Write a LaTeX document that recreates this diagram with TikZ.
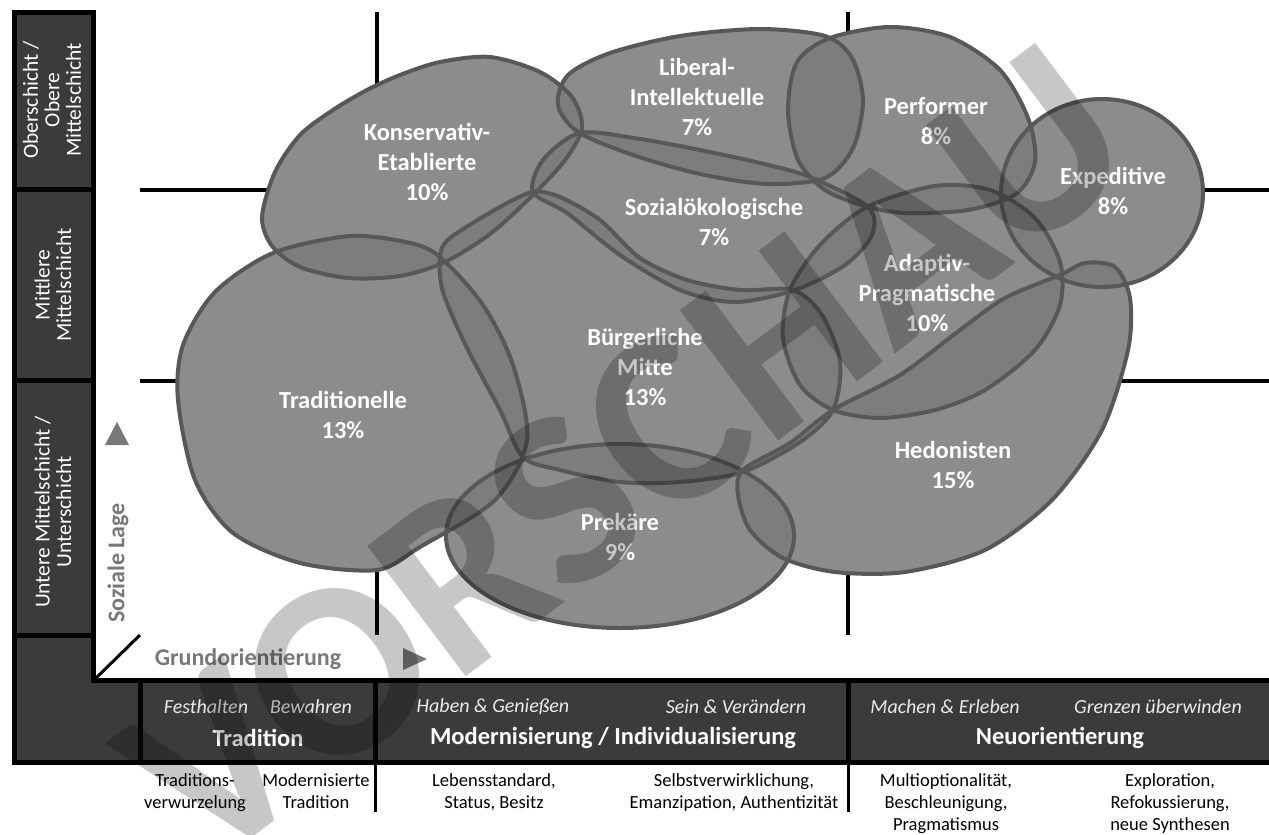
\documentclass[tikz,border=0pt]{standalone}
\usepackage{fontspec}
\setmainfont{Carlito}
\definecolor{blob}{gray}{0.482}
\definecolor{rimc}{gray}{0.345}
\definecolor{panel}{gray}{0.23}
\definecolor{axisgray}{gray}{0.47}

\begin{document}
\begin{tikzpicture}[x=1pt,y=-1pt,
    blank/.style={fill=white},
    milieu/.style={fill=blob,fill opacity=.87},
    rim/.style={draw=rimc,line width=4pt},
    cell/.style={fill=panel,draw=black,line width=5pt},
    lab/.style={text=white,align=center,font=\fontsize{24.5}{30}\selectfont\bfseries},
    layer/.style={text=white,align=center,rotate=90,font=\fontsize{21.5}{21.5}\selectfont},
    value/.style={text=white!92!black,font=\fontsize{20}{24}\selectfont\itshape},
    orient/.style={text=white,font=\fontsize{24.5}{30}\selectfont\bfseries},
    gloss/.style={align=center,anchor=north,inner sep=0pt,font=\fontsize{18.5}{22}\selectfont},
    axis/.style={text=axisgray,font=\fontsize{24}{28}\selectfont\bfseries}]

      \useasboundingbox (0,0) rectangle (1269,835);

      % grid
      \draw[line width=4pt] (140,189.5) -- (1275,189.5);
      \draw[line width=4pt] (140,380.5) -- (1275,380.5);
      \draw[line width=4pt] (377,12) -- (377,635);
      \draw[line width=4pt] (848,12) -- (848,635);

      % milieus: white base, grey fill, rims
      \foreach \lay in {blank,milieu,rim}
      {
        % Konservativ-Etablierte
        \path[\lay] plot[smooth cycle] coordinates {(262,217) (272,246) (300,267) (348,278) (400,276)
          (445,262) (490,234) (533,195) (565,160) (582,128) (572,97) (540,72) (490,57) (440,62)
          (400,75) (367,90) (333,110) (300,135) (275,172)};
        % Liberal-Intellektuelle
        \path[\lay] plot[smooth cycle] coordinates {(558,105) (568,75) (610,53) (680,36) (760,29)
          (825,36) (852,58) (863,100) (853,148) (825,178) (767,184) (700,174) (633,155) (578,132)};
        % Performer
        \path[\lay] plot[smooth cycle] coordinates {(788,110) (797,62) (830,38) (890,27) (950,37)
          (1000,70) (1028,118) (1035,162) (1016,194) (968,210) (905,213) (865,206) (825,190) (798,160)};
        % Expeditive
        \path[\lay] (1102,193) ellipse [x radius=101, y radius=94];
        % Sozialoekologische
        \path[\lay] plot[smooth cycle] coordinates {(533,192) (543,160) (580,133) (640,139) (700,150)
          (760,163) (810,177) (868,207) (872,235) (845,265) (795,290) (735,302) (680,290) (620,255) (567,213)};
        % Adaptiv-Pragmatische
        \path[\lay] plot[smooth cycle] coordinates {(867,207) (935,186) (990,190) (1035,218) (1060,262)
          (1060,305) (1035,350) (985,390) (935,410) (880,418) (833,410) (800,385) (783,338) (790,290) (820,245)};
        % Buergerliche Mitte
        \path[\lay] plot[smooth cycle] coordinates {(440,257) (450,238) (500,207) (533,192) (560,197)
          (600,220) (640,258) (687,280) (740,290) (793,290) (822,315) (840,362) (833,410) (800,442)
          (743,472) (680,482) (620,482) (560,470) (523,457) (500,410) (467,348) (443,292)};
        % Traditionelle
        \path[\lay] plot[smooth cycle] coordinates {(178,400) (183,345) (215,292) (273,253) (350,236)
          (410,243) (440,257) (483,305) (513,365) (527,440) (495,500) (420,547) (377,570) (300,563)
          (233,533) (195,480)};
        % Prekaere
        \path[\lay] (620,536) ellipse [x radius=174, y radius=92];
        % Hedonisten
        \path[\lay] plot[smooth cycle] coordinates {(743,470) (790,443) (833,410) (900,375) (960,330)
          (1005,298) (1060,275) (1085,263) (1115,267) (1130,298) (1128,350) (1102,430) (1052,500)
          (985,550) (905,572) (835,572) (783,558) (750,530) (738,495)};
      }

      \node[lab] (kon) at (427,162) {Konservativ-\\Etablierte\\10\%};
      \node[lab] (lib) at (697,97) {Liberal-\\Intellektuelle\\7\%};
      \node[lab] (perf) at (936,121) {Performer\\8\%};
      \node[lab] (exped) at (1113,191) {Expeditive\\8\%};
      \node[lab] (sozi) at (714,222) {Sozialökologische\\7\%};
      \node[lab] (adapt) at (927,293) {Adaptiv-\\Pragmatische\\10\%};
      \node[lab] (buerg) at (645,367) {Bürgerliche\\Mitte\\13\%};
      \node[lab] (trad) at (343,415) {Traditionelle\\13\%};
      \node[lab] (prek) at (620,537) {Prekäre\\9\%};
      \node[lab] (hedo) at (953,465) {Hedonisten\\15\%};

      % left column
      \draw[cell] (14.5,12.5) rectangle (93.5,189.5);
      \draw[cell] (14.5,189.5) rectangle (93.5,380.5);
      \draw[cell] (14.5,380.5) rectangle (93.5,635);
      \draw[cell] (14.5,635) -- (93.5,635) -- (93.5,680.5) -- (140,680.5) -- (140,762) -- (14.5,762) -- cycle;
      \node[layer] (ober) at (52,100) {Oberschicht /\\Obere\\Mittelschicht};
      \node[layer] (mitt) at (53,285) {Mittlere\\Mittelschicht};
      \node[layer] (unter) at (53,512) {Untere Mittelschicht /\\Unterschicht};

      % axes
      \draw[line width=3pt] (95,679) -- (140,635);
      \node[axis,rotate=90] (lage) at (118,563) {Soziale Lage};
      \fill[axisgray] (105,445) -- (117,422) -- (129,445) -- cycle;
      \node[axis] (grund) at (248,659) {Grundorientierung};
      \fill[axisgray] (403,648) -- (427,659) -- (403,670) -- cycle;

      % bottom band
      \draw[cell] (140,680.5) rectangle (375,762);
      \draw[cell] (375,680.5) rectangle (848,762);
      \draw[cell] (848,680.5) rectangle (1280,762);
      \draw[line width=3pt] (375,762) -- (375,812);
      \draw[line width=3pt] (848,762) -- (848,812);

      \node[value] (fest) at (206,707) {Festhalten};
      \node[value] (bewa) at (311,707) {Bewahren};
      \node[orient] (tradi) at (258,738) {Tradition};
      \node[value] (habe) at (493,707) {Haben \& Genießen};
      \node[value] (sein) at (736,707) {Sein \& Verändern};
      \node[orient] (mode) at (613,738) {Modernisierung / Individualisierung};
      \node[value] (mach) at (945,707) {Machen \& Erleben};
      \node[value] (gren) at (1158,707) {Grenzen überwinden};
      \node[orient] (neuo) at (1060,738) {Neuorientierung};

      \node[gloss] (wurz) at (195,771) {\strut Traditions-\\verwurzelung};
      \node[gloss] (mtra) at (316,771) {\strut Modernisierte\\Tradition};
      \node[gloss] (lebe) at (494,771) {\strut Lebensstandard,\\Status, Besitz};
      \node[gloss] (selb) at (734,771) {\strut Selbstverwirklichung,\\Emanzipation, Authentizität};
      \node[gloss] (mult) at (946,771) {\strut Multioptionalität,\\Beschleunigung,\\Pragmatismus};
      \node[gloss] (expl) at (1170,771) {\strut Exploration,\\Refokussierung,\\neue Synthesen};

      % watermark
      \node[rotate=37,text=black,text opacity=.22,font=\fontsize{252}{252}\selectfont\bfseries] (mark) at (625,455) {VORSCHAU};

    \end{tikzpicture}
\end{document}
